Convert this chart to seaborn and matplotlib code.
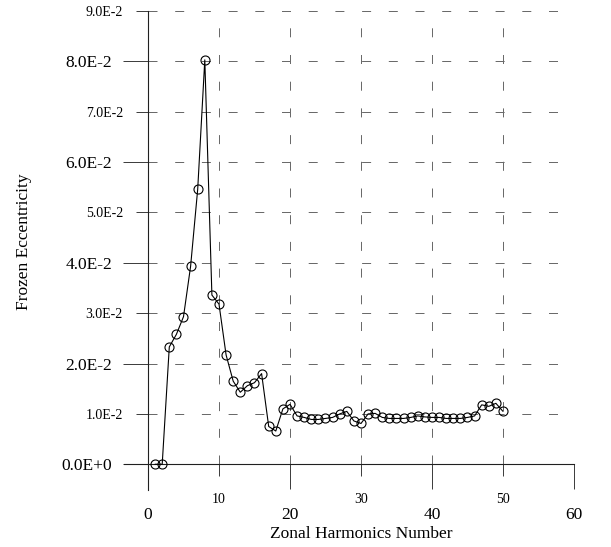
import matplotlib
matplotlib.use("Agg")
import matplotlib.pyplot as plt
import seaborn as sns
import pandas as pd

# ---------------- data ----------------
harmonics = list(range(1, 51))
eccentricity = [0.0, 0.0, 0.0233, 0.0258, 0.0293, 0.0393, 0.0546, 0.0803, 0.0336, 0.0318,
                0.0217, 0.0165, 0.0143, 0.0156, 0.0162, 0.0180, 0.0075, 0.0066, 0.0110, 0.0119,
                0.0096, 0.0093, 0.0089, 0.0089, 0.0091, 0.0093, 0.0100, 0.0105, 0.0086, 0.0081,
                0.0100, 0.0101, 0.0093, 0.0091, 0.0091, 0.0091, 0.0093, 0.0096, 0.0094, 0.0093,
                0.0093, 0.0091, 0.0091, 0.0091, 0.0093, 0.0096, 0.0118, 0.0115, 0.0121, 0.0105]

x_major_ticks = [0, 20, 40, 60]
x_major_labels = ["0", "20", "40", "60"]
x_minor_ticks = [10, 30, 50]
x_minor_labels = ["10", "30", "50"]
x_grid = [10, 20, 30, 40, 50, 60]

y_major_ticks = [0.0, 0.02, 0.04, 0.06, 0.08]
y_major_labels = ["0.0E+0", "2.0E-2", "4.0E-2", "6.0E-2", "8.0E-2"]
y_minor_ticks = [0.01, 0.03, 0.05, 0.07, 0.09]
y_minor_labels = ["1.0E-2", "3.0E-2", "5.0E-2", "7.0E-2", "9.0E-2"]
y_grid = [0.01, 0.02, 0.03, 0.04, 0.05, 0.06, 0.07, 0.08, 0.09]

df = pd.DataFrame({"n": harmonics, "e": eccentricity})

# ---------------- style ----------------
sns.set_theme(style="ticks")
plt.rcParams["font.family"] = ["Liberation Serif", "DejaVu Serif"]

W, H = 611, 547
fig = plt.figure(figsize=(W / 100, H / 100), dpi=100)
ax = fig.add_axes([124 / W, 1 - 490 / H, 450 / W, 479 / H])
ax.set_xlim(-3.38, 60)
ax.set_ylim(-0.00511, 0.09)

grid_color = "#6a6a6a"
dash = (0, (9, 17.7))
ax.hlines(y_grid, 0, 60, colors=grid_color, linewidth=0.72, linestyles=[dash], zorder=1)
ax.vlines(x_grid, 0, 0.09, colors=grid_color, linewidth=0.72, linestyles=[dash], zorder=1)

sns.lineplot(data=df, x="n", y="e", ax=ax, color="black", linewidth=0.8,
             marker="o", markersize=6.5, markerfacecolor="none",
             markeredgecolor="black", markeredgewidth=0.8, zorder=3, clip_on=False)

for s in ["top", "right"]:
    ax.spines[s].set_visible(False)
ax.spines["left"].set_position(("data", 0))
ax.spines["bottom"].set_position(("data", 0))
for s in ["left", "bottom"]:
    ax.spines[s].set_color("#202020")
    ax.spines[s].set_linewidth(0.8)

ax.set_xticks(x_major_ticks, labels=x_major_labels)
ax.set_xticks(x_minor_ticks, labels=x_minor_labels, minor=True)
ax.set_yticks(y_major_ticks, labels=y_major_labels)
ax.set_yticks(y_minor_ticks, labels=y_minor_labels, minor=True)

tick_c = "#404040"
ax.tick_params(axis="x", which="major", direction="out", length=18, width=0.72,
               color=tick_c, labelsize=12.5, pad=12.5, labelcolor="black")
ax.tick_params(axis="x", which="minor", direction="out", length=8.6, width=0.72,
               color=tick_c, labelsize=10, pad=12, labelcolor="black")
ax.tick_params(axis="y", which="major", direction="out", length=18, width=0.72,
               color=tick_c, labelsize=12.5, pad=8, labelcolor="black")
ax.tick_params(axis="y", which="minor", direction="out", length=8.6, width=0.72,
               color=tick_c, labelsize=10, pad=9.4, labelcolor="black")

ax.set_xlabel("Zonal Harmonics Number", fontsize=12.5, color="black")
ax.set_ylabel("Frozen Eccentricity", fontsize=12.5, color="black")
ax.xaxis.set_label_coords(237 / 450, -36 / 479)
ax.yaxis.set_label_coords(-92 / 450, 248 / 479)

fig.savefig("out.png", dpi=100)
